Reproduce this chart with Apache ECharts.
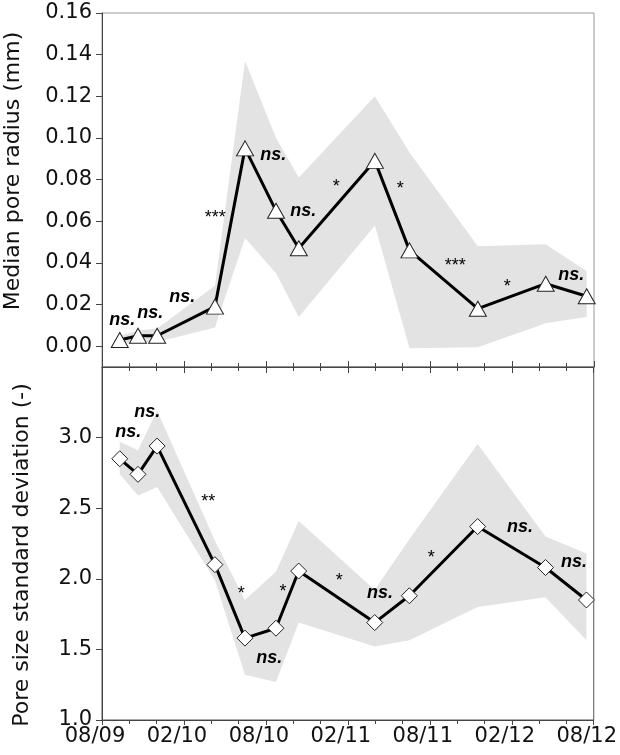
<!DOCTYPE html>
<html><head><meta charset="utf-8">
<script src="https://cdn.jsdelivr.net/npm/echarts@6/dist/echarts.min.js"></script>
<style>html,body{margin:0;padding:0;background:#fff}#c{width:620px;height:755px}</style>
</head><body><div id="c"></div>
<script>
// sampling dates
const sampleDates = ['2009-09-10','2009-10-20','2009-12-02','2010-04-09','2010-06-15','2010-08-23','2010-10-13','2011-03-30','2011-06-16','2011-11-16','2012-04-15','2012-07-15'];
// top panel: median pore radius (mm)
const radiusMedian = [0.003,0.005,0.005,0.019,0.095,0.065,0.047,0.089,0.046,0.018,0.030,0.024];
const radiusUpper  = [0.005,0.0075,0.0085,0.029,0.137,0.100,0.081,0.120,0.093,0.048,0.049,0.036];
const radiusLower  = [0.001,0.002,0.002,0.009,0.052,0.035,0.014,0.058,-0.001,-0.0005,0.011,0.014];
// bottom panel: pore size standard deviation (-)
const sdMedian = [2.85,2.74,2.94,2.10,1.58,1.65,2.055,1.69,1.88,2.37,2.08,1.85];
const sdUpper  = [2.97,2.91,3.19,2.27,1.85,2.05,2.41,1.92,2.28,2.955,2.30,2.18];
const sdLower  = [2.74,2.59,2.65,1.99,1.32,1.27,1.69,1.52,1.565,1.80,1.87,1.565];
// tick labels
const xTickLabels = ['08/09','02/10','08/10','02/11','08/11','02/12','08/12'];
const radiusTicks = [0,0.02,0.04,0.06,0.08,0.10,0.12,0.14,0.16];
const sdTicks = [1.0,1.5,2.0,2.5,3.0];
// significance annotations (x in months since 08/2009)
const radiusNoteX = [1.49,3.53,5.87,8.29,12.53,14.73,17.14,21.83,25.85,29.66,34.34];
const radiusNoteY = [0.0125,0.0159,0.0235,0.064,0.092,0.065,0.079,0.078,0.041,0.031,0.034];
const radiusNoteText = ['ns.','ns.','ns.','***','ns.','ns.','*','*','***','*','ns.'];
const sdNoteX = [1.93,3.31,7.78,10.19,12.25,13.26,17.36,20.36,24.1,30.6,34.56];
const sdNoteY = [3.04,3.18,2.58,1.93,1.44,1.94,2.02,1.90,2.18,2.37,2.12];
const sdNoteText = ['ns.','ns.','**','*','ns.','*','*','ns.','*','ns.','ns.'];

function toMonths(s){const p=s.split('-').map(Number);return (p[0]-2009)*12+(p[1]-8)+(p[2]-1)/30;}
const xs = sampleDates.map(toMonths);

const chart = echarts.init(document.getElementById('c'), null, {renderer:'canvas'});
const AX = '#444';
const axisFont = {fontFamily:'DejaVu Sans', fontSize:21, color:'#111'};

function band(xi, yi, lower, upper){
  return {
    type:'custom', xAxisIndex:xi, yAxisIndex:yi, silent:true, z:1,
    data: xs.map((x,i)=>[x, lower[i], upper[i]]),
    encode:{x:0, y:[1,2]},
    renderItem:(params, api)=>{
      if(params.dataIndex!==0) return;
      const pts=[];
      for(let i=0;i<xs.length;i++) pts.push(api.coord([xs[i], upper[i]]));
      for(let i=xs.length-1;i>=0;i--) pts.push(api.coord([xs[i], lower[i]]));
      return {type:'polygon', shape:{points:pts}, style:{fill:'#e3e3e3'}};
    }
  };
}
function line(xi, yi, vals, sym, size){
  return {
    type:'line', xAxisIndex:xi, yAxisIndex:yi, z:5,
    data: xs.map((x,i)=>[x, vals[i]]),
    symbol:sym, symbolSize:size, showAllSymbol:true,
    itemStyle:{color:'#fff', borderColor:'#222', borderWidth:1},
    lineStyle:{color:'#000', width:3}
  };
}
function notes(xi, yi, nx, ny, nt, isStar){
  const d=[];
  for(let i=0;i<nx.length;i++){ const s = nt[i]!=='ns.'; if(s===isStar) d.push([nx[i], ny[i], nt[i]]); }
  return {
    type:'scatter', xAxisIndex:xi, yAxisIndex:yi, z:6, silent:true,
    symbolSize:1, itemStyle:{color:'rgba(0,0,0,0)', opacity:1},
    data:d,
    label:{show:true, position:'inside', formatter:p=>p.data[2],
      offset: isStar ? [0,5] : [0,0],
      fontFamily:'Liberation Sans', color:'#000', opacity:1, textBorderWidth:0,
      fontSize: 18,
      fontWeight: isStar ? 'normal' : 'bold',
      fontStyle: isStar ? 'normal' : 'italic'}
  };
}

const xBase = {type:'value', min:0, max:36, interval:6,
  splitLine:{show:false}};

const option = {
  animation:false,
  backgroundColor:'#fff',
  grid:[
    {left:102, right:26, top:13, height:354, show:true, borderColor:'#999', borderWidth:1},
    {left:102, right:26, top:367, bottom:35, show:true, borderColor:'#555', borderWidth:1}
  ],
  xAxis:[
    Object.assign({}, xBase, {gridIndex:0, position:'bottom',
      axisLine:{show:true, onZero:false, lineStyle:{color:AX, width:1}},
      axisTick:{show:true, inside:true, length:6, lineStyle:{color:AX}},
      minorTick:{show:true, splitNumber:3, length:4, lineStyle:{color:AX}},
      axisLabel:{show:false}}),
    Object.assign({}, xBase, {gridIndex:1, position:'bottom',
      axisLine:{show:true, onZero:false, lineStyle:{color:AX, width:1}},
      axisTick:{show:true, inside:false, length:5, lineStyle:{color:AX}},
      minorTick:{show:true, splitNumber:3, length:4, lineStyle:{color:AX}},
      axisLabel:Object.assign({show:true, margin:6, padding:[0,14,0,0],
        formatter:v=>xTickLabels[Math.round(v/6)]}, axisFont)}),
    Object.assign({}, xBase, {gridIndex:1, position:'top',
      axisLine:{show:false},
      axisTick:{show:true, inside:true, length:6, lineStyle:{color:AX}},
      minorTick:{show:true, splitNumber:3, length:4, lineStyle:{color:AX}},
      axisLabel:{show:false}})
  ],
  yAxis:[
    {type:'value', gridIndex:0, min:-0.01, max:0.16,
      splitLine:{show:false},
      axisLine:{show:true, onZero:false, lineStyle:{color:AX}},
      axisTick:{show:true, length:6, customValues:radiusTicks, lineStyle:{color:AX}},
      axisLabel:Object.assign({margin:10, customValues:radiusTicks, formatter:v=>v.toFixed(2)}, axisFont)},
    {type:'value', gridIndex:1, min:1.0, max:3.5,
      splitLine:{show:false},
      axisLine:{show:true, onZero:false, lineStyle:{color:AX}},
      axisTick:{show:true, length:6, customValues:sdTicks, lineStyle:{color:AX}},
      axisLabel:Object.assign({margin:10, customValues:sdTicks, formatter:v=>v.toFixed(1)}, axisFont)}
  ],
  graphic:[
    {type:'text', x:13, y:171, rotation:Math.PI/2,
      style:{text:'Median pore radius (mm)', fontFamily:'DejaVu Sans', fontSize:22, fill:'#111', align:'center', verticalAlign:'middle'}},
    {type:'text', x:22, y:555, rotation:Math.PI/2,
      style:{text:'Pore size standard deviation (-)', fontFamily:'DejaVu Sans', fontSize:22, fill:'#111', align:'center', verticalAlign:'middle'}}
  ],
  series:[
    band(0,0,radiusLower,radiusUpper),
    line(0,0,radiusMedian,'triangle',[17,15]),
    notes(0,0,radiusNoteX,radiusNoteY,radiusNoteText,false),
    notes(0,0,radiusNoteX,radiusNoteY,radiusNoteText,true),
    band(1,1,sdLower,sdUpper),
    line(1,1,sdMedian,'diamond',[16,16]),
    notes(1,1,sdNoteX,sdNoteY,sdNoteText,false),
    notes(1,1,sdNoteX,sdNoteY,sdNoteText,true)
  ]
};
chart.setOption(option);
</script></body></html>
